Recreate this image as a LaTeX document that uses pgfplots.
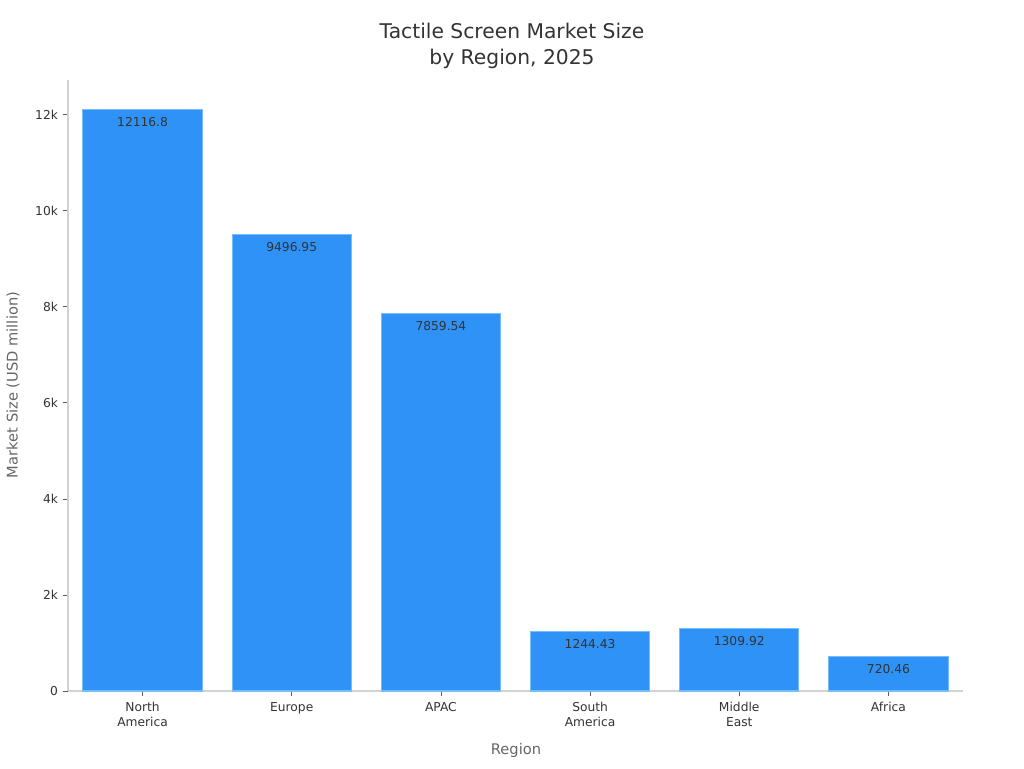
\documentclass[border=0pt]{standalone}
\usepackage{pgfplots}
\pgfplotsset{compat=1.18}
\usepackage{fontspec}
\setmainfont{DejaVu Sans}
\definecolor{barblue}{RGB}{47,146,247}
\definecolor{baredge}{RGB}{120,188,250}
\definecolor{txtdark}{RGB}{51,51,51}
\definecolor{txtgray}{RGB}{102,102,102}
\definecolor{spine}{RGB}{210,210,210}
\begin{document}
\begin{tikzpicture}[x=0.75pt,y=0.75pt]
\useasboundingbox (0,0) rectangle (1024,768);
\begin{axis}[
  at={(51pt,57.75pt)}, anchor=south west,
  scale only axis,
  width=671.25pt, height=458.25pt,
  xmin=-0.5, xmax=5.5,
  ymin=0, ymax=12722.64,
  axis x line*=bottom, axis y line*=left,
  axis line style={draw=spine, line width=0.8pt},
  every outer x axis line/.append style={draw=spine},
  every outer y axis line/.append style={draw=spine},
  scaled y ticks=false,
  xtick={0,1,2,3,4,5},
  xticklabels={North\\America,Europe,APAC,South\\America,Middle\\East,Africa},
  xticklabel style={align=center, font=\fontsize{9.2pt}{11pt}\selectfont, text=txtdark, yshift=-1pt},
  ytick={0,2000,4000,6000,8000,10000,12000},
  yticklabels={0,2k,4k,6k,8k,10k,12k},
  yticklabel style={font=\fontsize{9.2pt}{11pt}\selectfont, text=txtdark},
  /pgf/number format/assume math mode=true,
  tick align=outside,
  major tick length=4pt,
  tick style={txtdark!80, line width=0.6pt},
  ybar, bar width=89.5pt,
  nodes near coords,
  point meta=explicit symbolic,
  every node near coord/.append style={anchor=north, yshift=-5.5pt, inner sep=0pt,
    font=\fontsize{9.2pt}{11pt}\selectfont, text=txtdark},
  clip=false,
]
\addplot[fill=barblue, draw=baredge, line width=0.8pt] coordinates {
  (0,12116.8) [12116.8]
  (1,9496.95) [9496.95]
  (2,7859.54) [7859.54]
  (3,1244.43) [1244.43]
  (4,1309.92) [1309.92]
  (5,720.46) [720.46]
};
\end{axis}
\node[text=txtdark, font=\fontsize{15.2pt}{19.5pt}\selectfont, align=center] at (512,722) {Tactile Screen Market Size\\by Region, 2025};
\node[text=txtgray, font=\fontsize{11pt}{13pt}\selectfont] at (516,18) {Region};
\node[text=txtgray, font=\fontsize{11pt}{13pt}\selectfont, rotate=90] at (13,383) {Market Size (USD million)};
\end{tikzpicture}
\end{document}
